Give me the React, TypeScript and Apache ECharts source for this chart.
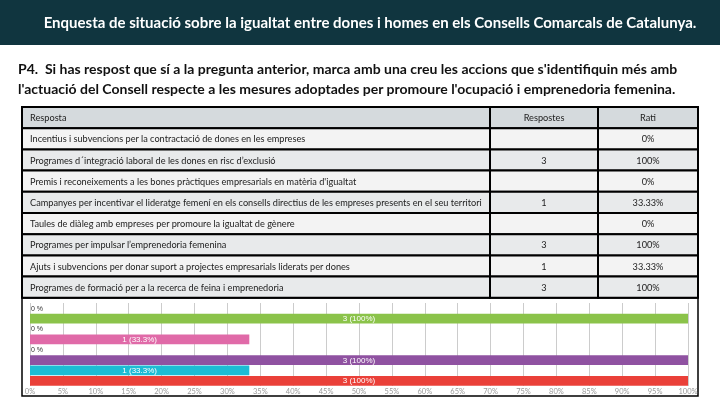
import React, { useEffect, useRef } from "react";
import * as echarts from "echarts";

const titleText =
  "Enquesta de situació sobre la igualtat entre dones i homes en els Consells Comarcals de Catalunya.";
const questionLines = [
  "P4.  Si has respost que sí a la pregunta anterior, marca amb una creu les accions que s'identifiquin més amb",
  "l'actuació del Consell respecte a les mesures adoptades per promoure l'ocupació i emprenedoria femenina.",
];
const tableHeaders = ["Resposta", "Respostes", "Rati"];
const answers = [
  "Incentius i subvencions per la contractació de dones en les empreses",
  "Programes d´integració laboral de les dones en risc d’exclusió",
  "Premis i reconeixements a les bones pràctiques empresarials en matèria d'igualtat",
  "Campanyes per incentivar el lideratge femení en els consells directius de les empreses presents en el seu territori",
  "Taules de diàleg amb empreses per promoure la igualtat de gènere",
  "Programes per impulsar l’emprenedoria femenina",
  "Ajuts i subvencions per donar suport a projectes empresarials liderats per dones",
  "Programes de formació per a la recerca de feina i emprenedoria",
];
const counts = [0, 3, 0, 1, 0, 3, 1, 3];
const ratios = [0, 100, 0, 33.33, 0, 100, 33.33, 100];
const ratioLabels = ["0%", "100%", "0%", "33.33%", "0%", "100%", "33.33%", "100%"];
const barLabels = ["0 %", "3 (100%)", "0 %", "1 (33.3%)", "0 %", "3 (100%)", "1 (33.3%)", "3 (100%)"];
const barColors = ["#8bc34a", "#8bc34a", "#e06aa8", "#e06aa8", "#8f52a1", "#8f52a1", "#1cbcd4", "#ea4039"];

export default function App() {
  const ref = useRef<HTMLDivElement>(null);
  useEffect(() => {
    if (!ref.current) return;
    const chart = echarts.init(ref.current, null, { renderer: "svg" });

    const colX = [22, 490, 598, 698];
    const top = 107;
    const rowH = 21.2;
    const graphics: any[] = [];

    graphics.push({ type: "rect", shape: { x: 0, y: 0, width: 720, height: 45 }, style: { fill: "#10353f" } });
    graphics.push({
      type: "text",
      x: 370,
      y: 22,
      style: {
        text: titleText,
        fill: "#ffffff",
        font: "bold 15px Lato",
        textAlign: "center",
        textVerticalAlign: "middle",
      },
    });
    questionLines.forEach((l, i) => {
      graphics.push({
        type: "text",
        x: 18,
        y: 68 + i * 20,
        style: { text: l, fill: "#111", font: "bold 14px Lato", textAlign: "left", textVerticalAlign: "middle" },
      });
    });

    const rows = [tableHeaders, ...answers.map((a, i) => [a, counts[i] ? String(counts[i]) : "", ratioLabels[i]])];
    rows.forEach((r, ri) => {
      const y = top + ri * rowH;
      const bg = ri === 0 ? "#d5dadd" : ri % 2 === 1 ? "#f3f3f3" : "#e8eaeb";
      for (let c = 0; c < 3; c++) {
        graphics.push({
          type: "rect",
          shape: { x: colX[c], y, width: colX[c + 1] - colX[c], height: rowH },
          style: { fill: bg, stroke: "#000", lineWidth: 2 },
        });
        const cx = c === 0 ? colX[0] + 8 : (colX[c] + colX[c + 1]) / 2;
        graphics.push({
          type: "text",
          x: cx,
          y: y + rowH / 2,
          z: 10,
          style: {
            text: r[c],
            fill: "#222",
            font: "9.2px Lato",
            textAlign: c === 0 ? "left" : "center",
            textVerticalAlign: "middle",
            width: c === 0 ? colX[1] - colX[0] - 9 : undefined,
            overflow: c === 0 ? "truncate" : undefined,
            ellipsis: "",
          },
        });
      }
    });
    graphics.push({
      type: "rect",
      shape: { x: 22, y: 298, width: 676, height: 98 },
      style: { fill: "none", stroke: "#000", lineWidth: 1.5 },
    });

    chart.setOption({
      animation: false,
      graphic: graphics,
      grid: { left: 30, right: 32, top: 303, height: 83 },
      xAxis: {
        type: "value",
        min: 0,
        max: 100,
        interval: 5,
        axisLine: { show: false },
        axisTick: { show: false },
        axisLabel: { formatter: "{value}%", fontSize: 7.5, color: "#999", margin: 1, fontFamily: "Lato" },
        splitLine: { show: true, lineStyle: { color: "#cccccc", width: 1 } },
      },
      yAxis: {
        type: "category",
        inverse: true,
        data: answers,
        axisLine: { show: false },
        axisTick: { show: false },
        axisLabel: { show: false },
      },
      series: [
        {
          type: "bar",
          barCategoryGap: "5%",
          data: ratios.map((v, i) => ({
            value: v,
            itemStyle: { color: barColors[i] },
            label:
              v === 0
                ? { show: true, position: "right", distance: 1, color: "#333", fontSize: 7, formatter: barLabels[i] }
                : { show: true, position: "inside", color: "#fff", fontSize: 8, formatter: barLabels[i] },
          })),
        },
      ],
    });
    return () => chart.dispose();
  }, []);
  return <div ref={ref} style={{ position: "fixed", left: 0, top: 0, width: 720, height: 405 }} />;
}
